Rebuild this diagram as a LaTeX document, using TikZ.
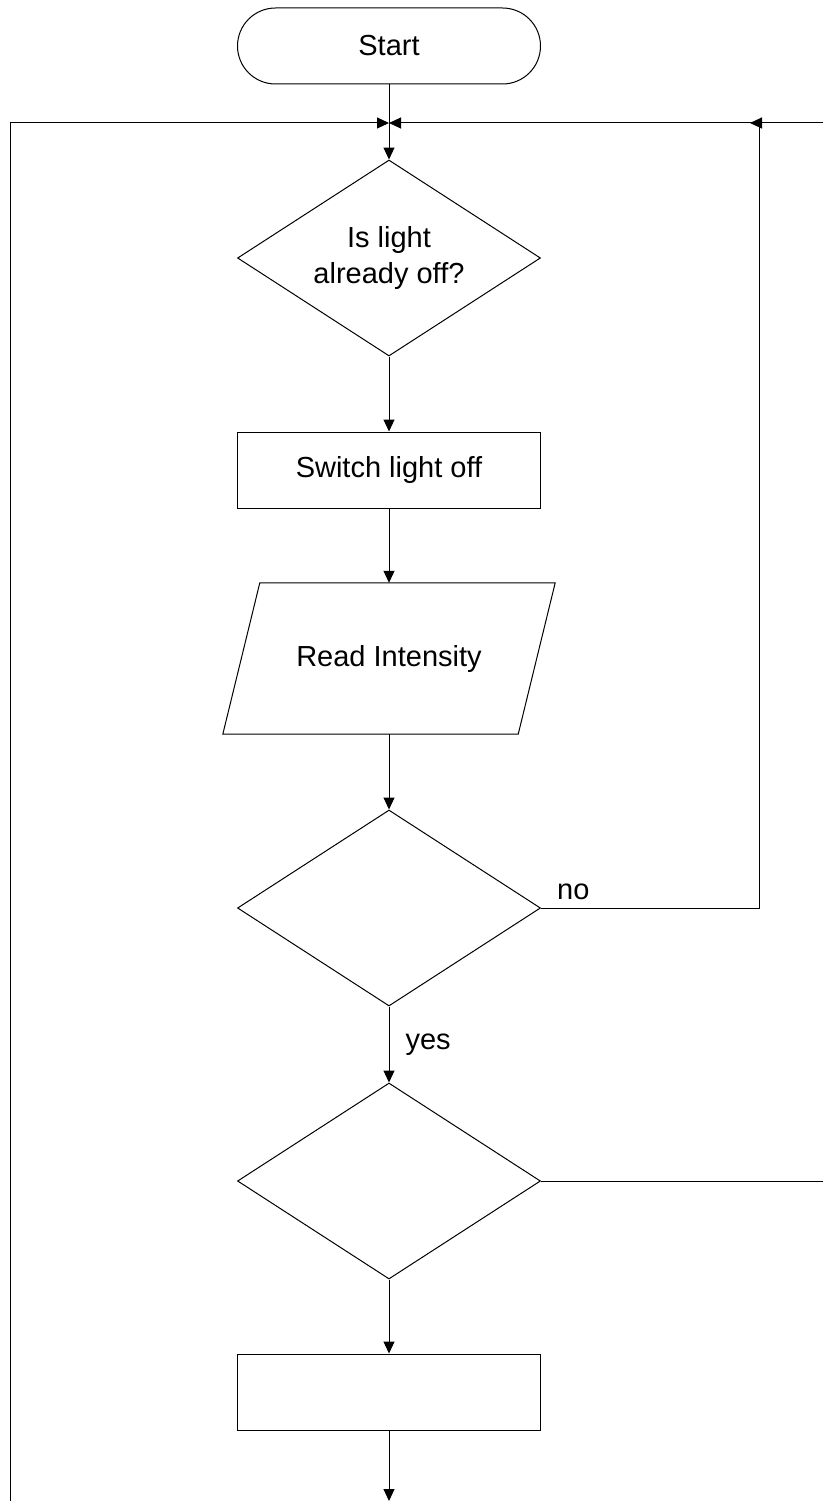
\documentclass[tikz,border=0pt]{standalone}
\usepackage{fontspec}
\setmainfont{Liberation Sans}
\usetikzlibrary{shapes.geometric,arrows.meta}
\begin{document}
\begin{tikzpicture}[x=1pt,y=-1pt,
  font=\fontsize{29}{36}\selectfont,
  shp/.style={draw, line width=1pt, inner sep=0pt},
  dec/.style={shp, diamond, aspect=1.546, minimum width=303pt, minimum height=196pt, align=center},
  box/.style={shp, rectangle, minimum width=303pt, minimum height=76pt},
  arr/.style={line width=1pt, -{Triangle[length=12pt,width=11pt]}},
  ln/.style={line width=1pt},
  lbl/.style={inner sep=0pt}]
\useasboundingbox (0,0) rectangle (823,1501);
% shapes
\node[box, rounded corners=38pt] (start) at (389,46) {Start};
\node[dec] (d1) at (389,258) {Is light\\already off?};
\node[box] (b1) at (389,470) {Switch light off};
\node[minimum width=295pt, minimum height=151pt, inner sep=0pt] (rd) at (389,658.5) {Read Intensity};
\draw[ln] ([xshift=18.5pt]rd.north west) -- ([xshift=18.5pt]rd.north east)
  -- ([xshift=-18.5pt]rd.south east) -- ([xshift=-18.5pt]rd.south west) -- cycle;
\node[dec] (d2) at (389,908) {};
\node[dec] (d3) at (389,1181) {};
\node[box] (b3) at (389,1392) {};
% free ends
\coordinate (j) at (389,123);
\coordinate (lb) at (10,1501);
\coordinate (rt) at (759,123);
\coordinate (re) at (823,123);
\coordinate (bot) at (389,1501);
\coordinate (d3e) at (823,1181);
% connectors
\draw[arr] (start.south) -- (d1.north);
\draw[arr] (d1.south) -- (b1.north);
\draw[arr] (b1.south) -- (rd.north);
\draw[arr] (rd.south) -- (d2.north);
\draw[arr] (d2.south) -- node[lbl, anchor=west, xshift=16pt] (yes) {yes} (d3.north);
\draw[arr] (d3.south) -- (b3.north);
\draw[arr] (b3.south) -- (bot);
\draw[arr] (lb) |- (j);
\draw[arr] (d2.east) -| (rt) -- (j);
\draw[arr] (re) -- ([xshift=-9pt]rt);
\draw[ln] (d3.east) -- (d3e);
\node[lbl, anchor=south west] (no) at ([xshift=16pt,yshift=8pt]d2.east) {no};
\end{tikzpicture}
\end{document}
